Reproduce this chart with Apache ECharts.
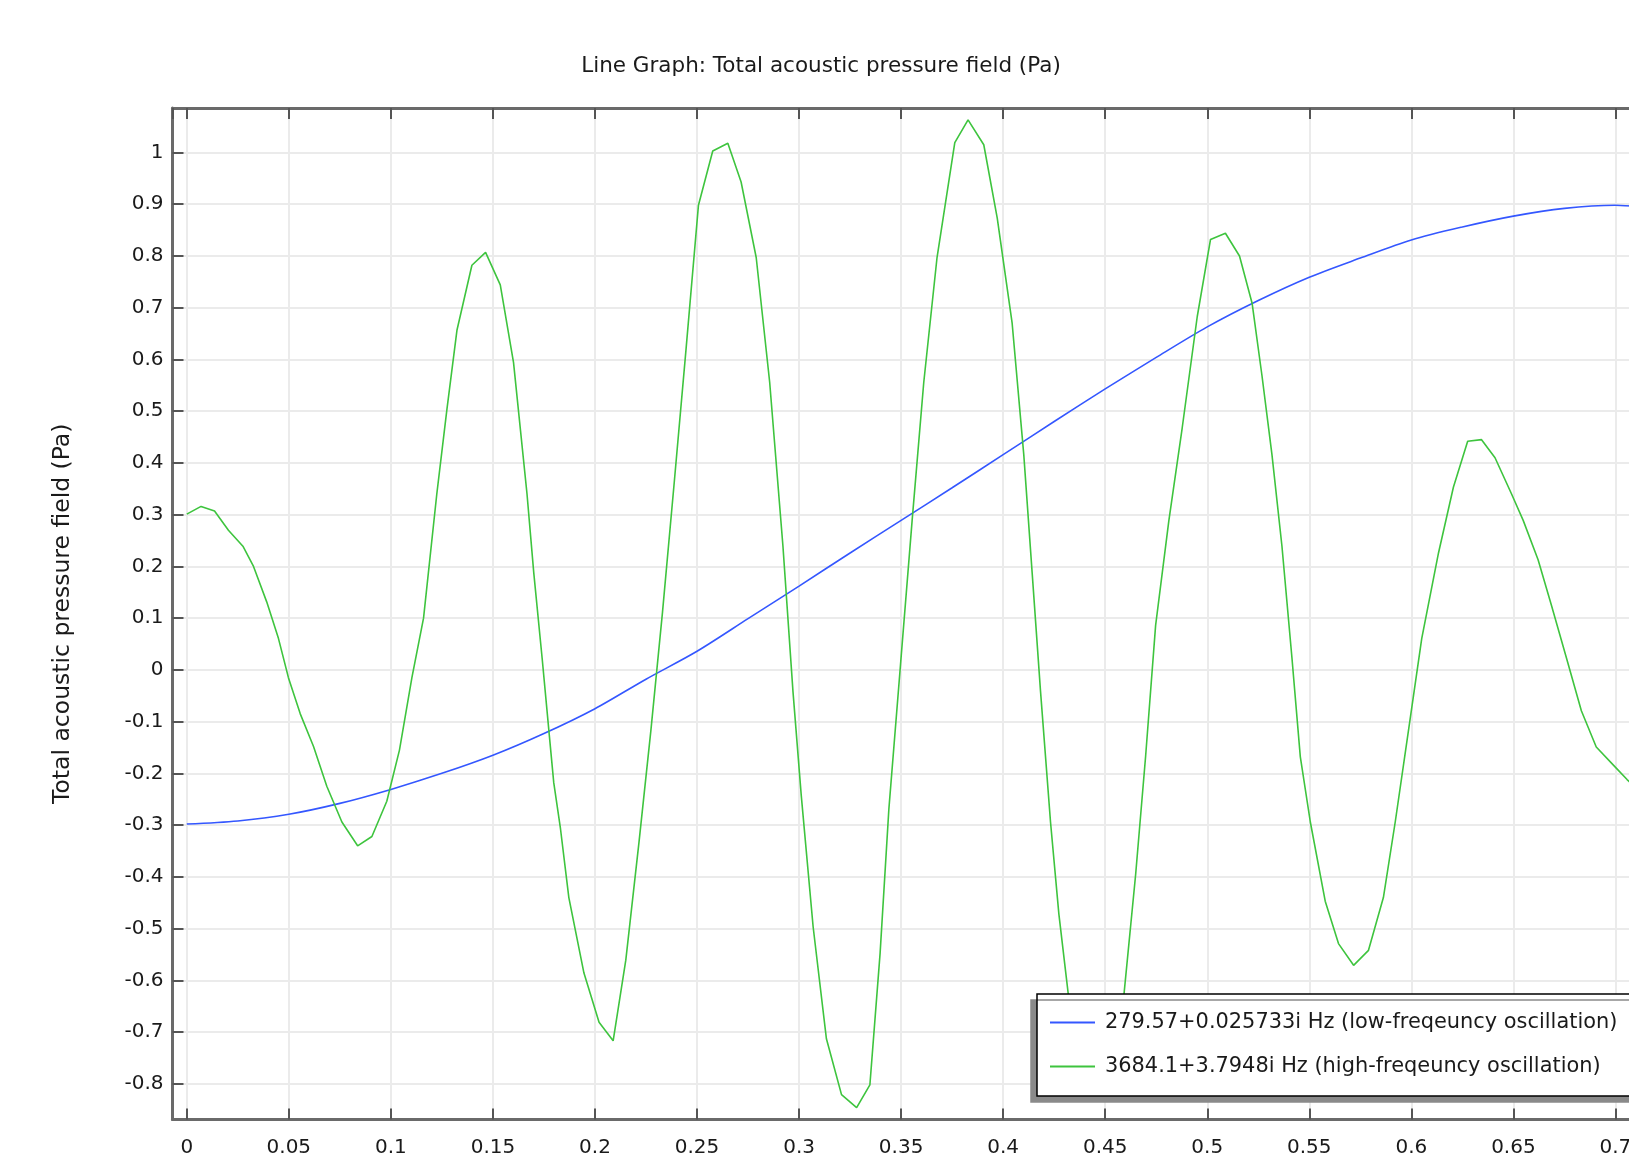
<!DOCTYPE html>
<html>
<head>
<meta charset="utf-8">
<script src="https://cdn.jsdelivr.net/npm/echarts@6/dist/echarts.min.js"></script>
<style>
html,body{margin:0;padding:0;overflow:hidden;background:#ffffff;}
#chart{width:1800px;height:1164px;}
</style>
</head>
<body>
<div id="chart"></div>
<script>
// ---- data ----
const chartTitle = 'Line Graph: Total acoustic pressure field (Pa)';
const yAxisTitle = 'Total acoustic pressure field (Pa)';
const seriesNames = [
  '279.57+0.025733i Hz (low-freqeuncy oscillation)',
  '3684.1+3.7948i Hz (high-freqeuncy oscillation)'
];

// low-frequency mode (blue)
const lowX = [0, 0.025, 0.05, 0.075, 0.1, 0.125, 0.15, 0.175, 0.2, 0.225, 0.25, 0.275, 0.3, 0.325, 0.35,
  0.375, 0.4, 0.425, 0.45, 0.475, 0.5, 0.525, 0.55, 0.575, 0.6, 0.625, 0.65, 0.675, 0.7, 0.712];
const lowY = [-0.298, -0.292, -0.279, -0.258, -0.231, -0.200, -0.165, -0.123, -0.075, -0.018, 0.036, 0.099,
  0.162, 0.226, 0.289, 0.352, 0.416, 0.480, 0.543, 0.604, 0.663, 0.714, 0.759, 0.796, 0.831, 0.856,
  0.877, 0.892, 0.898, 0.895];

// high-frequency mode (green)
const highX = [0, 0.0070, 0.0136, 0.0204, 0.0275, 0.0327, 0.0392, 0.0449, 0.0498, 0.0556, 0.0621, 0.0686,
  0.0760, 0.0837, 0.0907, 0.0980, 0.1042, 0.1103, 0.1160, 0.1225, 0.1275, 0.1324, 0.1397, 0.1464,
  0.1536, 0.1601, 0.1667, 0.1700, 0.1741, 0.1774, 0.1798, 0.1831, 0.1872, 0.1946, 0.2020, 0.2089,
  0.2151, 0.2216, 0.2274, 0.2331, 0.2389, 0.2446, 0.2507, 0.2577, 0.2651, 0.2716, 0.2790, 0.2856,
  0.2921, 0.2970, 0.3011, 0.3069, 0.3134, 0.3208, 0.3282, 0.3347, 0.3397, 0.3440, 0.3497, 0.3554,
  0.3611, 0.3676, 0.3763, 0.3828, 0.3905, 0.3971, 0.4044, 0.4101, 0.4142, 0.4183, 0.4232, 0.4273,
  0.4322, 0.4390, 0.4457, 0.4525, 0.4591, 0.4649, 0.4698, 0.4747, 0.4812, 0.4877, 0.4951, 0.5016,
  0.5089, 0.5158, 0.5220, 0.5268, 0.5317, 0.5366, 0.5415, 0.5456, 0.5505, 0.5578, 0.5643, 0.5717,
  0.5790, 0.5863, 0.5921, 0.5986, 0.6051, 0.6133, 0.6206, 0.6276, 0.6344, 0.6410, 0.6491, 0.6548,
  0.6621, 0.6687, 0.6760, 0.6833, 0.6906, 0.6997, 0.7057, 0.7120];
const highY = [0.301, 0.316, 0.307, 0.270, 0.239, 0.200, 0.131, 0.061, -0.015, -0.085, -0.148, -0.225,
  -0.294, -0.340, -0.322, -0.254, -0.155, -0.015, 0.100, 0.340, 0.505, 0.657, 0.782, 0.807,
  0.744, 0.594, 0.340, 0.188, 0.023, -0.117, -0.218, -0.307, -0.440, -0.586, -0.681, -0.717,
  -0.561, -0.332, -0.117, 0.112, 0.365, 0.619, 0.898, 1.003, 1.018, 0.943, 0.797, 0.556,
  0.239, -0.041, -0.244, -0.497, -0.713, -0.821, -0.846, -0.802, -0.548, -0.269, 0.010, 0.289,
  0.556, 0.797, 1.019, 1.063, 1.015, 0.873, 0.670, 0.416, 0.188, -0.041, -0.294, -0.472,
  -0.637, -0.780, -0.834, -0.790, -0.631, -0.396, -0.167, 0.086, 0.289, 0.467, 0.683, 0.832,
  0.844, 0.800, 0.708, 0.569, 0.416, 0.239, 0.023, -0.168, -0.294, -0.447, -0.529, -0.571,
  -0.542, -0.440, -0.294, -0.117, 0.061, 0.226, 0.353, 0.442, 0.445, 0.410, 0.340, 0.289,
  0.213, 0.124, 0.023, -0.079, -0.149, -0.187, -0.212, -0.235];

// ---- chart ----
const FONT = 'DejaVu Sans';
const axisGray = '#6a6a6a';
const tickGray = '#555555';
const gridGray = '#ebebeb';
const lineIcon = 'path://M0 0H45V2H0Z';

const chart = echarts.init(document.getElementById('chart'), null, {renderer: 'canvas'});

const xAxisCommon = {
  type: 'value',
  min: -0.007,
  max: 0.76,
  splitNumber: 15,
  axisLine: {show: true, onZero: false, lineStyle: {color: axisGray, width: 3}},
  axisTick: {show: true, inside: true, length: 11, lineStyle: {color: tickGray, width: 2}}
};

const option = {
  animation: false,
  backgroundColor: '#ffffff',
  title: {
    text: chartTitle,
    left: 821,
    top: 55,
    padding: 0,
    textAlign: 'center',
    textStyle: {fontFamily: FONT, fontSize: 21.5, fontWeight: 'normal', color: '#1a1a1a'}
  },
  grid: {left: 172.5, top: 108, right: 62.1, bottom: 44.5, containLabel: false},
  legend: {
    orient: 'vertical',
    left: 1037,
    top: 994,
    padding: [18, 40, 19, 13],
    itemWidth: 45,
    itemHeight: 20,
    itemGap: 23,
    icon: lineIcon,
    selectedMode: false,
    backgroundColor: '#ffffff',
    borderColor: '#000000',
    borderWidth: 1.5,
    borderRadius: 0,
    shadowColor: '#8a8a8a',
    shadowBlur: 0,
    shadowOffsetX: -6,
    shadowOffsetY: 6,
    textStyle: {fontFamily: FONT, fontSize: 20.9, color: '#1a1a1a', padding: [0, 0, 0, 5]},
    data: seriesNames
  },
  xAxis: [
    Object.assign({}, xAxisCommon, {
      position: 'bottom',
      axisLabel: {
        show: true, margin: 18, showMinLabel: false, showMaxLabel: false,
        fontFamily: FONT, fontSize: 20, color: '#1a1a1a'
      },
      splitLine: {show: true, lineStyle: {color: gridGray, width: 2}}
    }),
    Object.assign({}, xAxisCommon, {
      position: 'top',
      axisLabel: {show: false},
      splitLine: {show: false}
    })
  ],
  yAxis: {
    type: 'value',
    min: -0.869,
    max: 1.086,
    splitNumber: 20,
    name: yAxisTitle,
    nameLocation: 'middle',
    nameGap: 98,
    nameTextStyle: {fontFamily: FONT, fontSize: 23.5, color: '#1a1a1a'},
    axisLine: {show: true, onZero: false, lineStyle: {color: axisGray, width: 3}},
    axisTick: {show: true, inside: true, length: 11, lineStyle: {color: tickGray, width: 2}},
    axisLabel: {
      show: true, margin: 9, showMinLabel: false, showMaxLabel: false,
      fontFamily: FONT, fontSize: 20, color: '#1a1a1a'
    },
    splitLine: {show: true, lineStyle: {color: gridGray, width: 2}}
  },
  series: [
    {
      name: seriesNames[0],
      type: 'line',
      xAxisIndex: 0,
      data: lowX.map((x, i) => [x, lowY[i]]),
      symbol: 'none',
      showSymbol: false,
      smooth: 0.3,
      lineStyle: {color: '#3457ff', width: 1.6},
      itemStyle: {color: '#3457ff'},
      z: 3
    },
    {
      name: seriesNames[1],
      type: 'line',
      xAxisIndex: 0,
      data: highX.map((x, i) => [x, highY[i]]),
      symbol: 'none',
      showSymbol: false,
      lineStyle: {color: '#3ec43e', width: 1.6},
      itemStyle: {color: '#3ec43e'},
      z: 3
    }
  ]
};

chart.setOption(option);
</script>
</body>
</html>
